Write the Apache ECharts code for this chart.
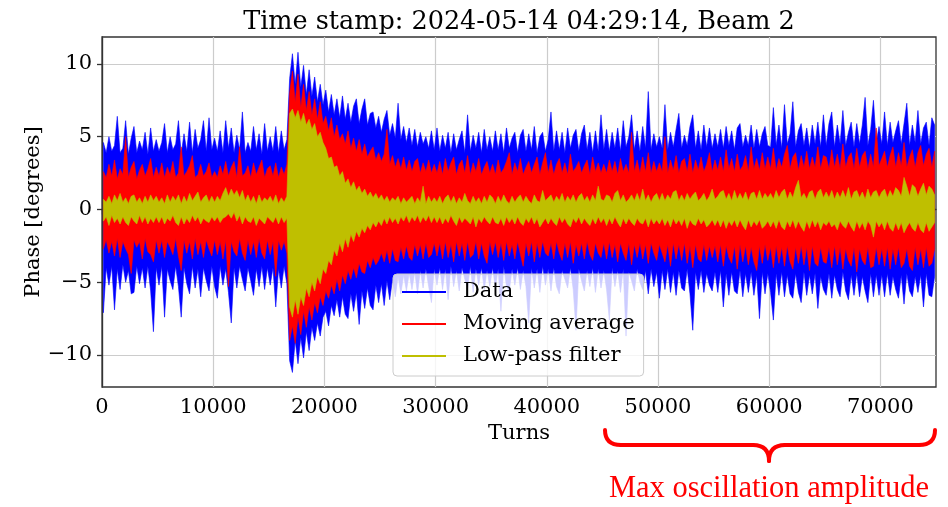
<!DOCTYPE html>
<html><head><meta charset="utf-8">
<script src="https://cdn.jsdelivr.net/npm/echarts@6/dist/echarts.min.js"></script>
<style>html,body{margin:0;padding:0;background:#fff}#c{width:948px;height:507px}</style>
</head><body><div id="c"></div><script>
// Each value = envelope (max / min) of the trace inside one 250-turn bin
const BIN = 250;
const xTicks = [0, 10000, 20000, 30000, 40000, 50000, 60000, 70000];
const yTicks = [-10, -5, 0, 5, 10];
const seriesNames = ['Data', 'Moving average', 'Low-pass filter'];

const dataHi = [
4.6,3.9,5.0,4.0,4.4,6.4,3.9,4.2,6.1,3.8,4.9,5.7,3.9,4.7,4.1,5.3,3.8,5.6,4.0,4.8,
4.0,4.6,5.9,3.9,5.0,4.1,4.5,6.1,3.8,5.2,4.0,6.0,3.9,5.5,4.2,4.8,6.1,4.0,6.3,4.1,
4.9,4.0,5.4,3.9,6.1,4.2,5.6,3.9,5.1,4.1,6.7,3.9,4.6,4.0,5.7,4.1,5.2,3.8,5.9,4.0,
5.0,4.0,5.7,3.9,5.4,4.1,4.8,9.0,10.7,8.6,10.8,8.4,9.9,7.9,9.6,7.8,9.1,7.4,8.6,7.2,
8.2,6.7,7.9,6.5,7.6,6.3,7.8,6.2,7.3,6.0,7.1,7.6,5.9,6.9,7.6,5.8,6.6,6.7,5.6,6.4,
5.3,6.2,6.8,5.1,5.9,4.9,7.3,4.8,5.7,4.6,5.6,4.4,5.5,4.3,5.3,4.5,5.0,4.2,5.4,4.1,
5.6,4.0,5.1,4.2,5.3,3.9,5.2,4.1,4.8,5.4,3.9,6.5,4.0,5.1,4.2,5.3,3.9,5.5,4.1,5.0,
4.0,5.4,4.1,5.2,3.9,5.6,4.2,4.9,5.3,3.9,5.1,5.5,4.0,5.2,4.1,5.7,3.9,5.0,5.3,4.0,
4.8,6.7,4.0,5.4,4.1,5.3,3.9,5.6,4.2,5.1,5.5,4.0,5.2,5.8,4.1,5.3,3.9,5.4,4.0,6.5,
4.1,5.5,4.0,5.3,4.2,5.6,4.0,6.1,4.3,5.0,6.5,4.1,5.4,4.0,5.7,4.2,8.1,4.1,5.2,4.3,
5.0,4.2,7.2,4.1,5.3,4.3,5.5,6.6,4.2,5.1,4.4,5.7,6.5,4.2,5.4,4.1,5.8,4.3,5.6,4.2,
5.2,4.3,5.5,4.2,5.7,4.4,5.4,4.1,5.6,5.9,4.3,5.1,4.4,5.8,4.2,5.5,4.3,5.2,5.7,4.4,
4.3,7.0,4.4,5.8,4.2,7.2,4.5,5.2,7.4,4.3,5.4,5.9,4.4,5.6,4.2,5.8,4.5,6.0,4.3,6.5,
4.4,5.9,6.7,4.3,5.8,4.5,6.8,4.4,5.3,6.0,4.3,5.9,4.5,5.8,7.7,4.4,5.5,7.5,4.6,5.7,
4.5,6.7,4.4,6.0,4.6,5.4,6.1,4.5,5.9,7.3,4.4,5.8,4.6,6.8,4.5,5.6,6.0,4.4,6.3,5.8
];
const dataLo = [
-7.1,-4.0,-5.2,-3.9,-6.9,-4.1,-5.5,-3.8,-5.0,-4.2,-5.8,-5.7,-3.9,-5.1,-4.0,-5.4,-3.9,-5.6,-8.4,-4.0,
-5.2,-3.9,-7.4,-4.1,-4.9,-5.5,-3.9,-5.3,-7.4,-4.0,-5.1,-5.8,-3.9,-5.4,-4.1,-6.0,-4.0,-4.9,-5.6,-3.9,
-5.3,-6.1,-3.9,-5.2,-4.1,-5.7,-7.8,-4.0,-5.4,-3.9,-4.8,-5.6,-4.0,-4.9,-5.9,-4.1,-5.3,-3.9,-5.5,-4.0,
-5.2,-4.0,-6.7,-4.1,-5.4,-3.9,-5.1,-10.4,-11.2,-9.0,-10.6,-8.8,-10.2,-8.4,-9.7,-8.1,-9.0,-7.8,-8.7,-7.4,
-7.0,-8.0,-6.6,-7.3,-6.2,-7.4,-6.0,-7.2,-7.5,-5.8,-7.0,-5.7,-7.9,-5.6,-6.8,-5.4,-6.6,-6.9,-5.2,-6.4,
-5.1,-6.6,-4.9,-6.2,-4.8,-6.0,-4.6,-5.8,-4.5,-5.6,-4.4,-5.5,-4.3,-5.8,-4.2,-5.4,-4.1,-5.3,-6.4,-4.1,
-5.2,-4.0,-5.5,-4.1,-6.2,-3.9,-5.3,-4.2,-5.6,-4.0,-4.8,-5.4,-3.9,-5.7,-4.1,-5.2,-4.0,-5.5,-4.2,-5.3,
-4.0,-5.4,-4.1,-7.0,-3.9,-5.3,-5.6,-4.1,-5.2,-4.0,-5.5,-4.2,-5.3,-7.8,-4.0,-5.4,-4.1,-5.7,-3.9,-5.2,
-4.1,-5.6,-4.0,-5.3,-5.8,-4.2,-4.8,-5.4,-4.0,-5.5,-8.3,-4.1,-4.9,-5.6,-4.2,-5.3,-4.0,-5.7,-4.1,-5.4,
-4.2,-5.5,-7.6,-4.0,-5.3,-4.2,-5.7,-4.1,-8.7,-4.3,-4.9,-5.6,-4.1,-5.0,-5.5,-4.2,-5.8,-4.1,-5.3,-4.3,
-6.1,-4.2,-5.5,-4.1,-5.7,-4.3,-5.9,-4.2,-5.4,-5.6,-4.1,-5.8,-8.3,-4.3,-5.5,-4.2,-5.7,-4.4,-5.2,-5.6,
-4.3,-5.7,-4.2,-6.7,-4.4,-5.9,-4.3,-5.6,-5.8,-4.2,-6.0,-4.4,-5.7,-4.3,-5.9,-4.5,-7.5,-4.3,-5.8,-4.4,
-5.7,-7.6,-4.4,-5.9,-4.3,-6.0,-4.5,-5.8,-6.1,-4.4,-5.7,-6.4,-4.3,-5.9,-4.5,-5.8,-4.4,-6.8,-4.6,-5.5,
-5.9,-4.4,-6.1,-4.5,-5.5,-6.0,-4.3,-5.6,-6.2,-4.5,-5.9,-4.4,-6.0,-4.6,-5.6,-6.4,-4.4,-6.0,-4.5,-5.9,
-4.5,-6.0,-4.4,-5.9,-4.6,-5.5,-6.1,-4.5,-6.5,-4.4,-5.6,-6.0,-4.6,-5.7,-4.5,-6.7,-4.4,-5.9,-6.0,-4.6
];
const maHi = [
2.6,2.2,3.1,2.3,3.4,2.1,2.8,2.4,5.0,2.2,2.9,3.3,2.1,2.7,3.1,2.3,2.8,3.5,2.2,2.9,
2.3,3.2,2.2,2.9,2.4,3.3,2.2,2.5,4.3,2.3,2.6,3.0,3.7,2.2,2.4,3.1,2.3,2.6,3.2,2.2,
2.6,2.2,3.0,2.4,3.3,2.3,2.9,3.3,2.2,4.3,2.3,2.5,3.0,2.2,3.2,2.4,2.9,3.4,2.2,2.8,
3.0,2.3,3.2,2.2,2.9,2.4,3.1,8.0,9.5,7.4,9.3,7.0,8.6,6.8,8.1,6.5,7.6,6.2,7.4,5.9,
6.4,5.4,6.3,5.0,5.8,4.8,5.2,4.5,5.4,4.2,4.9,4.0,4.8,3.8,4.5,3.6,4.0,4.3,3.4,3.9,
3.3,3.8,5.5,3.1,3.7,2.9,3.5,2.8,3.6,2.7,3.4,2.6,3.3,3.5,2.5,3.2,2.6,3.4,2.5,3.1,
2.5,3.3,2.4,3.5,2.6,3.2,3.6,2.4,3.1,3.4,2.5,3.7,2.4,3.2,2.6,3.5,2.4,2.9,3.3,2.5,
3.1,2.4,3.4,2.5,2.8,3.3,3.9,2.4,3.2,2.6,3.5,2.4,2.9,3.3,2.5,3.1,3.6,2.4,3.2,3.9,
2.5,3.4,2.4,3.1,3.5,2.5,3.2,2.4,3.8,2.6,2.9,3.3,2.5,3.0,3.4,2.4,3.6,2.6,3.2,2.5,
3.1,2.5,3.4,2.6,3.3,2.4,3.5,2.6,3.1,2.5,5.3,2.6,3.4,2.5,3.6,2.6,3.9,2.5,3.3,2.6,
3.2,2.6,5.0,2.5,3.4,2.7,3.7,2.5,3.3,3.5,2.6,3.8,2.5,3.4,2.7,3.6,2.6,3.1,3.9,2.6,
3.4,2.7,3.6,2.6,4.1,2.8,3.5,2.6,3.8,2.7,3.0,3.7,2.6,4.3,2.8,3.5,2.7,3.9,2.8,3.6,
2.8,4.2,2.7,3.5,2.9,3.8,4.4,2.8,3.6,3.9,2.7,3.7,2.9,4.0,2.8,3.6,2.9,4.3,2.8,3.7,
3.6,2.8,4.1,2.9,3.8,2.8,4.5,2.9,3.6,3.9,2.8,4.2,2.9,3.7,4.0,2.8,3.8,2.9,5.6,3.0,
3.5,4.0,2.9,3.7,4.3,2.9,3.9,3.0,4.6,2.9,3.6,4.1,2.9,3.9,4.4,3.0,3.8,4.2,2.9,4.0
];
const maLo = [
-2.7,-2.1,-3.0,-2.2,-3.2,-2.0,-3.3,-2.2,-2.7,-3.1,-4.4,-2.1,-2.6,-2.2,-3.4,-2.0,-2.9,-3.1,-3.6,-2.1,
-3.0,-2.1,-3.3,-2.2,-2.6,-3.1,-2.0,-3.2,-4.2,-2.1,-3.0,-2.2,-3.4,-2.0,-3.1,-2.2,-3.3,-2.1,-2.7,-3.2,
-2.1,-3.1,-2.2,-3.4,-2.1,-5.3,-2.2,-2.9,-3.2,-2.0,-3.0,-3.5,-2.1,-3.1,-2.2,-3.3,-2.0,-3.0,-3.4,-2.1,
-3.1,-2.2,-4.6,-2.1,-2.8,-2.2,-3.0,-9.0,-8.0,-9.2,-7.4,-8.6,-7.0,-8.1,-6.7,-7.6,-6.4,-7.1,-6.0,-6.6,
-5.6,-6.1,-5.2,-5.8,-4.8,-5.6,-4.5,-5.1,-4.2,-4.8,-4.0,-4.7,-3.7,-4.3,-4.4,-3.5,-4.0,-3.3,-3.8,-3.5,
-3.0,-3.6,-2.8,-3.7,-2.7,-3.5,-3.6,-2.6,-3.4,-2.5,-3.3,-3.5,-2.4,-3.2,-2.4,-3.4,-2.3,-3.3,-3.1,-2.3,
-3.2,-2.3,-3.4,-2.2,-3.3,-2.4,-3.6,-2.2,-3.2,-2.3,-3.5,-2.2,-3.3,-3.1,-2.2,-3.4,-2.3,-3.2,-3.7,-2.2,
-3.1,-2.2,-3.3,-2.3,-3.5,-2.2,-3.2,-2.4,-3.4,-2.2,-3.1,-3.9,-2.3,-3.2,-2.2,-3.6,-2.3,-3.3,-2.2,-3.0,
-3.2,-2.3,-3.4,-2.2,-3.0,-3.5,-2.3,-3.3,-2.2,-3.7,-2.4,-3.2,-2.3,-3.4,-2.2,-3.1,-3.5,-2.3,-3.0,-3.3,
-2.3,-3.4,-2.2,-3.3,-2.4,-3.6,-2.3,-3.0,-3.5,-2.3,-3.8,-2.4,-3.3,-2.3,-3.4,-2.4,-3.7,-2.3,-3.0,-3.5,
-2.4,-3.0,-3.6,-2.4,-3.9,-2.3,-3.4,-2.4,-3.5,-2.3,-3.7,-2.5,-4.0,-2.4,-3.4,-3.6,-2.4,-3.5,-2.5,-3.3,
-2.5,-3.6,-2.4,-3.9,-2.5,-3.3,-3.7,-2.5,-4.1,-2.4,-3.6,-2.5,-3.8,-2.6,-3.6,-4.2,-2.5,-3.7,-2.4,-3.5,
-2.6,-4.0,-2.5,-3.7,-2.6,-3.9,-2.5,-3.6,-4.1,-2.6,-3.7,-2.5,-3.8,-2.6,-4.2,-2.5,-3.7,-3.9,-2.6,-3.6,
-3.7,-2.6,-4.0,-2.5,-3.8,-2.6,-4.1,-2.7,-3.5,-3.9,-2.6,-4.3,-2.7,-3.5,-3.8,-2.6,-4.0,-3.9,-2.6,-3.8,
-2.7,-3.9,-2.6,-4.1,-2.7,-3.8,-2.6,-4.0,-3.7,-2.7,-3.9,-4.2,-2.6,-3.8,-2.7,-4.0,-2.6,-3.9,-3.7,-2.7
];
const lpHi = [
0.7,0.5,0.9,0.4,1.0,0.6,1.1,0.5,0.8,0.4,0.9,1.0,0.5,0.8,0.4,0.9,0.5,1.0,0.6,0.9,
0.5,0.8,0.4,1.0,0.5,0.9,0.6,1.0,0.4,0.9,0.5,1.1,0.6,0.9,1.2,0.5,0.8,1.0,0.5,0.9,
0.5,0.9,0.6,1.1,1.5,0.9,1.4,1.0,1.3,0.8,1.3,0.6,1.0,0.5,0.9,0.4,1.0,0.5,0.8,0.6,
0.9,0.5,1.0,0.4,0.8,0.5,0.9,6.6,6.9,6.3,6.8,6.0,6.6,5.8,6.2,5.5,5.9,5.0,5.3,4.6,
4.2,3.5,3.6,2.9,3.0,2.3,2.6,1.8,2.1,1.5,1.9,1.3,1.6,1.1,1.4,0.9,1.2,0.8,1.1,0.7,
1.0,0.6,0.9,0.5,0.8,0.6,0.9,0.4,0.8,0.5,0.7,0.9,0.4,0.8,0.5,1.6,0.4,0.9,0.5,0.8,
0.5,0.9,0.4,0.8,1.0,0.5,0.9,0.4,0.8,0.5,1.1,0.6,0.4,0.9,0.5,0.8,0.4,0.9,0.5,1.0,
0.8,0.4,0.9,0.5,1.0,0.6,0.4,0.9,0.5,0.8,1.0,0.5,0.9,0.6,0.4,1.0,0.6,0.5,1.3,0.6,
0.8,1.0,0.5,0.9,0.6,1.1,0.5,0.9,0.6,1.0,0.5,0.9,1.1,0.6,0.9,0.5,1.0,0.6,1.6,0.7,
0.6,1.0,0.9,0.5,1.1,1.3,0.6,1.0,0.5,0.7,1.0,0.6,1.1,0.6,1.4,0.6,1.0,0.5,0.9,1.1,
0.6,1.1,0.6,1.0,0.7,1.2,1.3,0.6,1.0,0.6,1.1,0.7,1.0,1.2,0.6,0.8,1.1,0.6,0.9,1.4,
0.7,0.9,1.2,1.3,0.7,1.1,0.6,1.3,0.7,1.1,0.7,1.2,0.6,1.1,1.2,0.7,1.3,0.7,1.1,0.8,
1.1,0.7,1.3,0.8,1.2,1.4,0.7,1.2,0.8,1.5,2.0,0.8,1.1,0.7,1.2,1.3,0.7,1.2,1.4,0.8,
1.2,0.8,1.3,0.7,1.2,0.8,1.3,0.8,1.5,0.7,1.2,1.3,0.8,1.2,0.7,1.4,0.8,1.2,1.3,0.8,
1.2,1.4,0.8,1.3,0.9,1.5,1.3,0.9,2.2,1.6,0.9,1.7,1.5,0.9,1.4,1.8,1.0,1.6,1.4,1.0
];
const lpLo = [
-0.8,-0.5,-1.1,-0.4,-0.9,-0.6,-1.0,-0.5,-0.9,-1.1,-0.5,-0.8,-1.0,-0.4,-0.9,-0.5,-1.0,-0.6,-0.9,-0.5,
-0.9,-0.5,-1.0,-0.6,-0.8,-0.4,-0.9,-1.1,-0.5,-1.0,-0.6,-0.9,-0.4,-0.8,-0.5,-1.0,-0.6,-0.8,-0.9,-0.5,
-0.8,-0.5,-0.9,-0.6,-0.5,-0.3,-0.6,-0.2,-0.8,-0.4,-1.0,-0.5,-0.8,-0.9,-0.5,-1.1,-0.6,-0.8,-1.0,-0.5,
-0.7,-0.9,-0.5,-1.0,-0.5,-0.9,-0.6,-6.7,-7.4,-6.2,-7.2,-6.0,-6.6,-5.4,-6.0,-5.0,-5.6,-4.6,-5.1,-4.1,
-4.4,-3.5,-3.8,-2.8,-3.2,-2.3,-2.9,-2.0,-2.6,-1.7,-2.2,-1.5,-1.9,-1.3,-1.6,-1.1,-1.4,-0.9,-1.2,-0.8,
-1.1,-0.6,-1.0,-0.5,-0.9,-0.6,-1.0,-0.5,-0.8,-0.4,-0.9,-0.5,-0.8,-0.4,-0.9,-0.5,-0.8,-0.4,-0.9,-0.5,
-0.9,-0.5,-1.0,-0.6,-0.9,-0.4,-0.8,-1.1,-0.5,-0.9,-0.6,-0.8,-1.0,-0.5,-1.2,-0.6,-0.9,-0.5,-0.8,-1.0,
-0.5,-0.9,-1.0,-0.6,-1.1,-0.5,-0.9,-0.6,-1.0,-0.5,-0.9,-1.1,-0.6,-0.9,-0.5,-1.0,-0.6,-1.2,-0.9,-0.6,
-1.0,-0.6,-0.9,-1.1,-0.5,-0.9,-0.6,-1.0,-1.2,-0.6,-0.9,-0.5,-1.0,-0.6,-0.9,-1.1,-0.6,-1.0,-0.5,-0.9,
-0.6,-1.1,-0.6,-1.0,-0.5,-0.9,-1.2,-0.6,-1.0,-0.6,-0.9,-1.1,-0.6,-0.9,-1.0,-0.6,-1.2,-0.6,-1.0,-0.7,
-1.0,-0.6,-1.1,-0.7,-1.2,-0.6,-1.0,-0.7,-1.1,-0.6,-1.3,-0.7,-1.0,-1.1,-0.6,-1.0,-0.7,-1.2,-1.0,-0.7,
-1.1,-0.7,-1.2,-0.7,-1.3,-0.8,-1.1,-0.7,-1.2,-0.7,-1.1,-1.4,-0.7,-1.2,-0.8,-1.1,-0.7,-1.3,-1.1,-0.8,
-1.2,-0.8,-1.3,-0.7,-1.2,-1.4,-0.8,-1.2,-0.7,-1.3,-0.8,-1.2,-1.5,-0.8,-1.3,-0.7,-1.2,-0.8,-1.4,-0.9,
-1.1,-0.8,-1.2,-1.0,-1.4,-0.8,-1.1,-1.3,-0.8,-1.2,-1.5,-0.8,-1.3,-0.9,-1.4,-0.8,-1.1,-1.9,-0.8,-1.2,
-0.9,-1.4,-0.8,-1.3,-1.5,-0.9,-1.4,-0.9,-1.6,-1.2,-0.9,-1.3,-1.5,-0.9,-1.4,-1.6,-0.9,-1.5,-1.2,-0.9
];

const SERIF = '"DejaVu Serif", serif';
const xs = dataHi.map((_, i) => i * BIN + BIN / 2);

// One filled band per series (upper envelope forward, lower envelope back), via the axes' scales
function band(name, color, hi, lo) {
  return {
    name: name, type: 'custom', silent: true, clip: true,
    itemStyle: { color: color },
    data: hi.map((v, i) => [xs[i], lo[i], v]),
    encode: { x: 0, y: [1, 2] },
    renderItem: function (params, api) {
      if (params.dataIndexInside !== 0) return null;
      const n = params.dataInsideLength;
      const pts = [];
      for (let j = 0; j < n; j++) pts.push(api.coord([api.value(0, j), api.value(2, j)]));
      for (let j = n - 1; j >= 0; j--) pts.push(api.coord([api.value(0, j), api.value(1, j)]));
      return { type: 'polygon', shape: { points: pts }, style: { fill: color, stroke: color, lineWidth: 0.6, lineJoin: 'bevel' } };
    }
  };
}

const chart = echarts.init(document.getElementById('c'), null, { renderer: 'canvas' });
const minus = v => String(v).replace('-', '\u2212');
chart.setOption({
  animation: false,
  backgroundColor: '#ffffff',
  grid: { left: 102, top: 37, width: 834, height: 350, show: true, borderColor: '#333333', borderWidth: 1.3, backgroundColor: 'transparent' },
  xAxis: {
    type: 'value', min: 0, max: 75000, interval: 10000,
    name: 'Turns', nameLocation: 'middle', nameGap: 35,
    nameTextStyle: { fontFamily: SERIF, fontSize: 21, color: '#000' },
    axisLine: { show: true, lineStyle: { color: '#333333', width: 1.3 } },
    axisTick: { show: true, length: 5, customValues: xTicks, lineStyle: { color: '#333333', width: 1.3 } },
    axisLabel: { customValues: xTicks, fontFamily: SERIF, fontSize: 21, color: '#000', margin: 10, formatter: v => String(v) },
    splitLine: { show: true, lineStyle: { color: '#cccccc', width: 1.2 } }
  },
  yAxis: {
    type: 'value', min: -12.2, max: 11.85, minInterval: 5, maxInterval: 5,
    name: 'Phase [degrees]', nameLocation: 'middle', nameGap: 58, nameMoveOverlap: false,
    nameTextStyle: { fontFamily: SERIF, fontSize: 21, color: '#000' },
    axisLine: { show: true, lineStyle: { color: '#333333', width: 1.3 } },
    axisTick: { show: true, length: 5, customValues: yTicks, lineStyle: { color: '#333333', width: 1.3 } },
    axisLabel: { customValues: yTicks, fontFamily: SERIF, fontSize: 21, color: '#000', margin: 10, formatter: minus },
    splitLine: { show: true, lineStyle: { color: '#cccccc', width: 1.2 } }
  },
  legend: {
    data: seriesNames.map(n => ({ name: n, icon: 'rect' })),
    orient: 'vertical', left: 393, top: 274, itemWidth: 44, itemHeight: 2, itemGap: 10,
    padding: [7, 9, 9, 9], backgroundColor: 'rgba(255,255,255,0.8)', borderColor: '#cccccc', borderWidth: 1, borderRadius: 4,
    textStyle: { fontFamily: SERIF, fontSize: 21, color: '#000', lineHeight: 22, padding: [0, 0, 0, 12] },
    selectedMode: false, z: 10
  },
  series: [
    band(seriesNames[0], '#0000ff', dataHi, dataLo),
    band(seriesNames[1], '#ff0000', maHi, maLo),
    band(seriesNames[2], '#bfbf00', lpHi, lpLo)
  ],
  graphic: [
    { type: 'text', x: 519, y: 22, style: { text: 'Time stamp: 2024-05-14 04:29:14, Beam 2', font: '25.5px "DejaVu Serif"', fill: '#000', align: 'center', verticalAlign: 'middle' } },
    { type: 'group', children: [
      { type: 'bezierCurve', shape: { x1: 605, y1: 430, cpx1: 605, cpy1: 445, x2: 621, y2: 445 }, style: { stroke: '#ff0000', lineWidth: 4, fill: null, lineCap: 'round' } },
      { type: 'line', shape: { x1: 621, y1: 445, x2: 753, y2: 445 }, style: { stroke: '#ff0000', lineWidth: 4, lineCap: 'round' } },
      { type: 'bezierCurve', shape: { x1: 753, y1: 445, cpx1: 769, cpy1: 445, x2: 769, y2: 461 }, style: { stroke: '#ff0000', lineWidth: 4, fill: null, lineCap: 'round' } },
      { type: 'bezierCurve', shape: { x1: 769, y1: 461, cpx1: 769, cpy1: 445, x2: 785, y2: 445 }, style: { stroke: '#ff0000', lineWidth: 4, fill: null, lineCap: 'round' } },
      { type: 'line', shape: { x1: 785, y1: 445, x2: 919, y2: 445 }, style: { stroke: '#ff0000', lineWidth: 4, lineCap: 'round' } },
      { type: 'bezierCurve', shape: { x1: 919, y1: 445, cpx1: 935, cpy1: 445, x2: 935, y2: 430 }, style: { stroke: '#ff0000', lineWidth: 4, fill: null, lineCap: 'round' } }
    ] },
    { type: 'text', x: 769, y: 489, style: { text: 'Max oscillation amplitude', font: '30.5px "Liberation Serif"', fill: '#ff0000', align: 'center', verticalAlign: 'middle' } }
  ]
});
</script></body></html>
